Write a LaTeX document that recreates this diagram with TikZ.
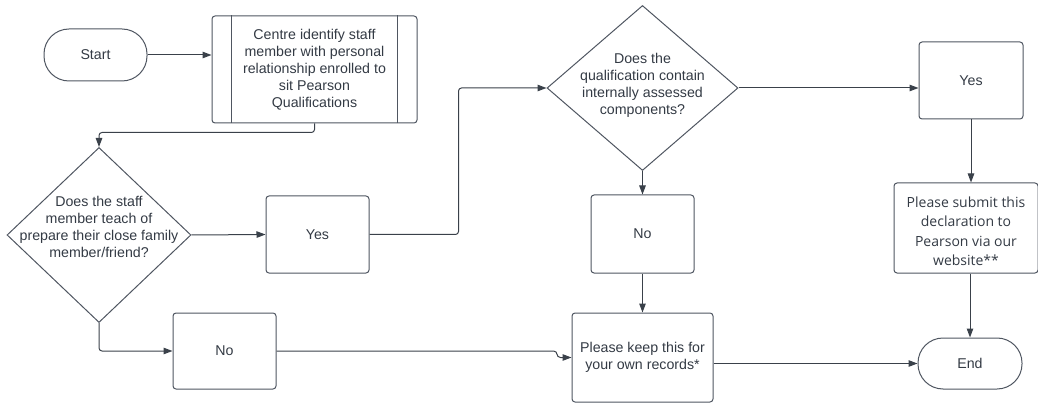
\documentclass[tikz,border=0pt]{standalone}
\usepackage{fontspec}
\setmainfont{Liberation Sans}
\newfontfamily\opensans{Open Sans}
\usetikzlibrary{shapes.geometric,arrows.meta,calc}
\definecolor{lc}{HTML}{3A414A}
\definecolor{bc}{HTML}{4F5661}
\definecolor{tc}{HTML}{333A44}
\begin{document}
\begin{tikzpicture}[x=1pt,y=-1pt,
  base/.style={draw=bc,line width=1pt,text=tc,align=center,inner sep=0pt,
    font=\fontsize{14.2}{17}\selectfont},
  box/.style={base,rectangle,rounded corners=3pt},
  term/.style={base,rectangle,rounded corners=25pt},
  dia/.style={base,diamond,inner sep=0pt},
  txt/.style={text=tc,align=center,inner sep=0pt,font=\fontsize{14.2}{17}\selectfont},
  conn/.style={draw=lc,line width=1pt,-{Triangle[length=9pt,width=6.5pt]},rounded corners=3pt}
]
\useasboundingbox (0,0) rectangle (1038,403);
\node[term,minimum width=103,minimum height=52] (start) at (95.5,55) {Start};
\node[box,minimum width=205,minimum height=107] (proc) at (314.5,69.5) {Centre identify staff\\member with personal\\relationship enrolled to\\sit Pearson\\Qualifications};
\draw[draw=bc,line width=1pt] ([xshift=20]proc.north west) -- ([xshift=20]proc.south west)
  ([xshift=-20]proc.north east) -- ([xshift=-20]proc.south east);
\node[dia,minimum width=184,minimum height=175,
  label={[txt,name=d1t,yshift=8]center:Does the staff\\member teach of\\prepare their close family\\member/friend?}] (d1) at (99,235) {};
\node[box,minimum width=103,minimum height=77] (yes1) at (317.5,234.5) {Yes};
\node[box,minimum width=103,minimum height=76] (no1) at (224.5,351) {No};
\node[dia,minimum width=191,minimum height=165,
  label={[txt,name=d2t,yshift=3]center:Does the\\qualification contain\\internally assessed\\components?}] (d2) at (642.5,88) {};
\node[box,minimum width=103,minimum height=78] (no2) at (642.5,234) {No};
\node[box,minimum width=141,minimum height=89] (keep) at (642.5,357.5) {Please keep this for\\your own records*};
\node[box,minimum width=104,minimum height=77] (yes2) at (971,80.5) {Yes};
\node[box,minimum width=144,minimum height=90] (submit) at (966,228) {};
\node[txt,font=\opensans\fontsize{14}{19.5}\selectfont,yshift=-3] (submitt) at (submit.center) {Please submit this\\declaration to\\Pearson via our\\website**};
\node[term,minimum width=104,minimum height=51] (end) at (970,363.5) {End};

\draw[conn] (start.east) -- (start.east -| proc.west);
\draw[conn] (proc.south) -- ++(0,9) -| (d1.north);
\draw[conn] (d1.east) -- (yes1.west);
\draw[conn] (yes1.east) -- ++(89,0) |- (d2.west);
\draw[conn] (d1.south) |- (no1.west);
\draw[conn,rounded corners=0pt] (no1.east) -- ++(277,0) .. controls +(5,0) and +(-5,0) .. ($(keep.west)+(-11,0)$) -- (keep.west);
\draw[conn] (d2.south) -- (no2.north);
\draw[conn] (no2.south) -- (keep.north);
\draw[conn] (keep.east |- end.west) -- (end.west);
\draw[conn] (d2.east) -- (d2.east -| yes2.west);
\draw[conn] (yes2.south) -- (yes2.south |- submit.north);
\draw[conn] (submit.south -| end.north) -- (end.north);
\end{tikzpicture}
\end{document}
